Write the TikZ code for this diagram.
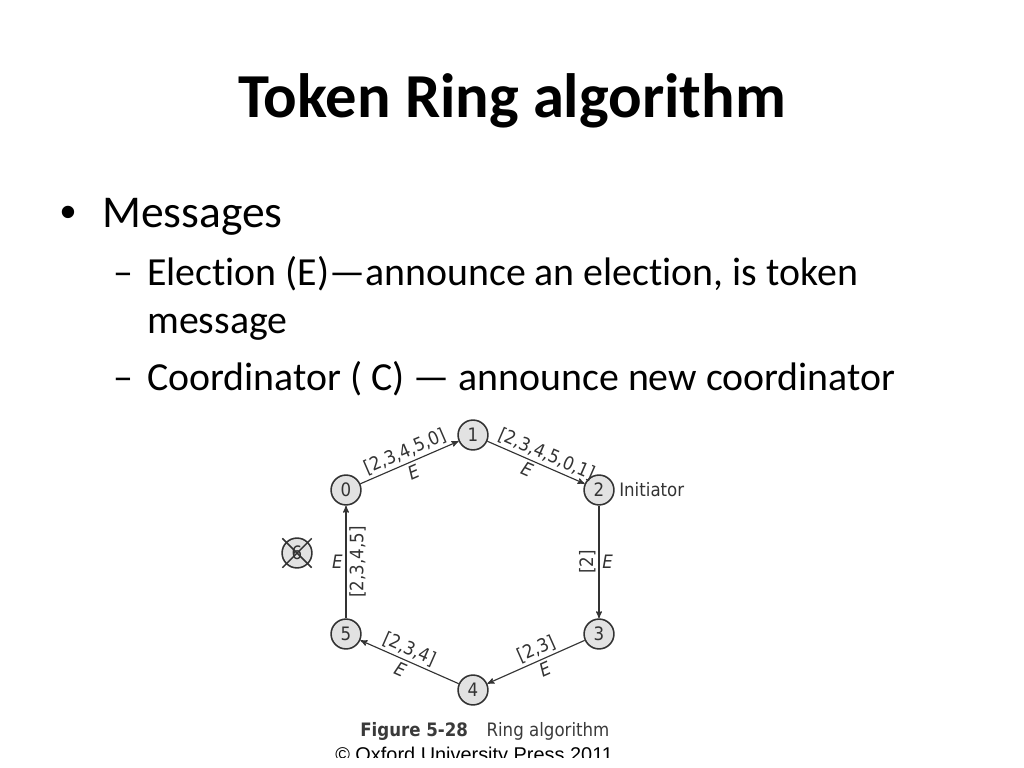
\documentclass[tikz,border=0pt]{standalone}
\usepackage{fontspec}
\setmainfont[Ligatures=NoCommon]{Carlito}
\newfontfamily\figfont[FakeStretch=0.9]{DejaVu Sans}
\newfontfamily\copyfont{Liberation Sans}
\usetikzlibrary{arrows}

\definecolor{ringline}{HTML}{333333}
\definecolor{ringfill}{HTML}{E2E2E2}
\definecolor{captext}{HTML}{3A3A3A}

\tikzset{
  VertexStyle/.style = {draw=ringline, fill=ringfill, shape=circle, line width=1.1pt,
                        minimum size=21pt, inner sep=0pt, text=ringline,
                        font=\figfont\fontsize{13}{15}\selectfont},
  EdgeStyle/.style = {->, >=stealth', draw=ringline, line width=0.8pt},
  msg/.style = {font=\figfont\fontsize{13}{15}\selectfont, text=ringline, inner sep=2pt},
  slidetext/.style = {anchor=base west, inner sep=0pt}
}

\begin{document}
\begin{tikzpicture}[x=0.703125pt, y=-0.703125pt]
	\useasboundingbox (0,0) rectangle (1024,768);
	% slide text
	\node[font=\bfseries\fontsize{44}{52}\selectfont, anchor=base, inner sep=0pt] (title) at (512,118) {Token Ring algorithm};
	\node[slidetext, font=\copyfont\fontsize{32}{38}\selectfont] (bul) at (60,228) {•};
	\node[slidetext, font=\fontsize{32}{38}\selectfont] (msgs) at (102,228) {Messages};
	\node[slidetext, font=\fontsize{28}{34}\selectfont] (dashA) at (113,286) {–};
	\node[slidetext, font=\fontsize{28}{34}\selectfont] (elect) at (147,286) {Election (E)—announce an election, is token};
	\node[slidetext, font=\fontsize{28}{34}\selectfont] (electB) at (147,333) {message};
	\node[slidetext, font=\fontsize{28}{34}\selectfont] (dashB) at (113,390) {–};
	\node[slidetext, font=\fontsize{28}{34}\selectfont] (coord) at (147,390) {Coordinator ( C) — announce new coordinator};
	% ring
		\node[VertexStyle] (P0) at (346,490) {0};
		\node[VertexStyle] (P1) at (473,435) {1};
		\node[VertexStyle, label={[msg, label distance=1pt]right:Initiator}] (P2) at (599,490) {2};
		\node[VertexStyle] (P3) at (599,634) {3};
		\node[VertexStyle] (P4) at (473,690) {4};
		\node[VertexStyle] (P5) at (346,634) {5};
		\node[VertexStyle] (P6) at (297,553) {6};
	% crashed process
		\draw[ringline, line width=1pt, shorten <=-3.5pt, shorten >=-3.5pt] (P6.north west) -- (P6.south east);
		\draw[ringline, line width=1pt, shorten <=-3.5pt, shorten >=-3.5pt] (P6.north east) -- (P6.south west);
	% election messages
		\draw[EdgeStyle] (P0) -- node[msg, sloped, above] (m01) {[2,3,4,5,0]} node[msg, sloped, below] (e01) {\itshape E} (P1);
		\draw[EdgeStyle] (P1) -- node[msg, sloped, above, pos=0.56] (m12) {[2,3,4,5,0,1]} node[msg, sloped, below, pos=0.45] (e12) {\itshape E} (P2);
		\draw[EdgeStyle] (P2) -- node[msg, rotate=90, anchor=south] (m23) {[2]} node[msg, right] (e23) {\itshape E} (P3);
		\draw[EdgeStyle] (P3) -- node[msg, sloped, above, pos=0.45] (m34) {[2,3]} node[msg, sloped, below, pos=0.45] (e34) {\itshape E} (P4);
		\draw[EdgeStyle] (P4) -- node[msg, sloped, above, pos=0.55] (m45) {[2,3,4]} node[msg, sloped, below, pos=0.55] (e45) {\itshape E} (P5);
		\draw[EdgeStyle] (P5) -- node[msg, rotate=90, anchor=north] (m50) {[2,3,4,5]} node[msg, left] (e50) {\itshape E} (P0);
	% caption
	\node[anchor=base west, inner sep=0pt, text=captext, font=\figfont\fontsize{13}{15}\selectfont] (cap) at (360,736) {{\bfseries Figure 5-28}\hspace{1em}Ring algorithm};
	\begin{scope}
		\clip (0,0) rectangle (1024,757);
		\node[anchor=base west, inner sep=0pt, font=\copyfont\fontsize{14}{16}\selectfont] (copy) at (335,761) {© Oxford University Press 2011};
	\end{scope}
\end{tikzpicture}
\end{document}
